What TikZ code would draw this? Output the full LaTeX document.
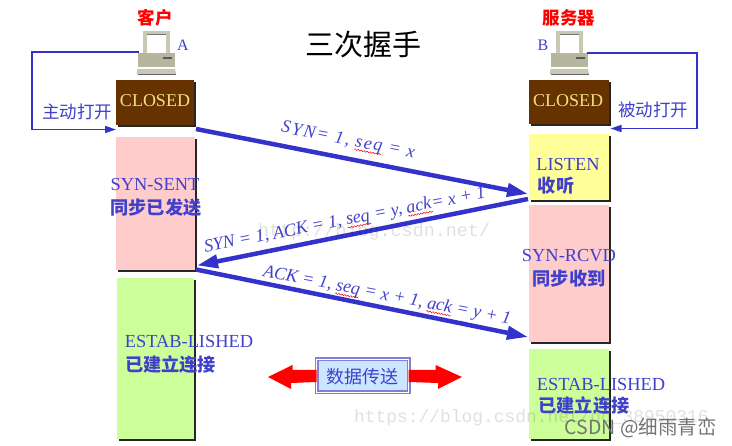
\documentclass[tikz,border=0pt]{standalone}
\usepackage{fontspec}
\setmainfont{Liberation Serif}
\newfontfamily\cjk{Noto Sans CJK SC}
\newfontfamily\wmark{Liberation Mono}
\usetikzlibrary{arrows.meta,calc,shadows,decorations.pathmorphing}
\definecolor{lblue}{HTML}{3333CC}
\definecolor{txtblue}{HTML}{4040CC}
\definecolor{brownbox}{HTML}{663300}
\definecolor{closedtxt}{HTML}{F0E080}
\definecolor{pinkbox}{HTML}{FFCCCC}
\definecolor{greenbox}{HTML}{CCFF99}
\definecolor{yellowbox}{HTML}{FFFF99}
\definecolor{dtfill}{HTML}{CCE6FF}
\definecolor{dtline}{HTML}{8080D8}
\definecolor{compbody}{HTML}{B6B69E}
\definecolor{complight}{HTML}{C8C8B4}
\newlength{\wavelen}
\newcommand{\redwave}[1]{\settowidth{\wavelen}{#1}\rlap{#1}\tikz[baseline=0pt,x=1pt,y=1pt]{\draw[red,line width=.5pt,decorate,decoration={snake,amplitude=.7pt,segment length=3pt}] (0pt,-3pt) -- (\wavelen,-3pt);}}
\tikzset{
  statebox/.style={draw=none,inner sep=0pt,outer sep=0pt,
    drop shadow={shadow xshift=2pt,shadow yshift=-2pt,fill=black!85,opacity=1}},
  statetext/.style={text=txtblue,font=\fontsize{18.4}{20}\selectfont,inner sep=0pt},
  cjkbold/.style={text=txtblue,font=\cjk\fontsize{18.2}{20}\selectfont\bfseries,inner sep=0pt},
  cjkplain/.style={text=txtblue,font=\cjk\fontsize{17.5}{20}\selectfont,inner sep=0pt},
  cjkred/.style={text=red,font=\cjk\fontsize{17.5}{20}\selectfont\bfseries,inner sep=0pt},
  msg/.style={-{Triangle[length=21pt,width=13pt]},line width=4.5pt,draw=lblue},
  loopline/.style={-{Triangle[length=11pt,width=7pt]},line width=1.6pt,draw=lblue},
  msglabel/.style={text=txtblue,font=\fontsize{18}{20}\selectfont\itshape,inner sep=0pt},
  wm/.style={font=\wmark,text=black,opacity=.12,inner sep=0pt},
  pics/computer/.style={code={
    \fill[black!60] (-18,21.5) rectangle (19.5,23);
    \fill[complight] (-13,-21) rectangle (13.5,1);
    \fill[black!55] (-9.5,-18) rectangle (9.5,-17);
    \fill[white] (-9.5,-17) rectangle (9.5,1);
    \fill[compbody] (-18.5,1) rectangle (19,15);
    \fill[black!65] (7,5) rectangle (16,7);
    \fill[complight] (-18.5,17) -- (19,17) -- (20,22) -- (-19.5,22) -- cycle;
  }}
}
\begin{document}
\begin{tikzpicture}[x=1pt,y=-1pt]
\useasboundingbox (0,0) rectangle (732,446);
\fill[white] (0,0) rectangle (732,446);

% state boxes
\node[statebox,fill=brownbox,minimum width=78pt,minimum height=45pt] (closedA) at (155,102.5) {};
\node[statebox,fill=pinkbox,minimum width=79pt,minimum height=133pt] (sent) at (155.5,204) {};
\node[statebox,fill=greenbox,minimum width=77pt,minimum height=161pt] (estA) at (155.5,358.5) {};
\node[statebox,fill=brownbox,minimum width=80pt,minimum height=44pt] (closedB) at (568.5,102) {};
\node[statebox,fill=yellowbox,minimum width=80pt,minimum height=66pt] (listen) at (569,167) {};
\node[statebox,fill=pinkbox,minimum width=80pt,minimum height=137pt] (rcvd) at (569,273.5) {};
\node[statebox,fill=greenbox,minimum width=80pt,minimum height=90pt] (estB) at (569,394) {};

% computers
\pic (compA) at (156,52) {computer};
\pic (compB) at (569,52) {computer};
\coordinate (portA) at (139,52);
\coordinate (portB) at (587,53);

% texts in boxes
\node[text=closedtxt,font=\fontsize{18}{20}\selectfont,inner sep=0pt] (tcA) at (155,101) {CLOSED};
\node[text=closedtxt,font=\fontsize{18}{20}\selectfont,inner sep=0pt] (tcB) at (568,101) {CLOSED};
\node[statetext] (tsent) at (155,185) {SYN-SENT};
\node[cjkbold] (tsentz) at (156,208) {同步已发送};
\node[statetext] (testA) at (189,342) {ESTAB-LISHED};
\node[cjkbold] (testAz) at (170.5,365) {已建立连接};
\node[statetext] (tlisten) at (568,165) {LISTEN};
\node[cjkbold] (tlistenz) at (556,186) {收听};
\node[statetext] (trcvd) at (569,256) {SYN-RCVD};
\node[cjkbold] (trcvdz) at (569,279) {同步收到};
\node[statetext] (testB) at (601,384) {ESTAB-LISHED};
\node[cjkbold] (testBz) at (584,406) {已建立连接};

% headers
\node[cjkred] (client) at (155,18) {客户};
\node[cjkred] (server) at (569,18) {服务器};
\node[text=txtblue,font=\fontsize{16}{20}\selectfont,inner sep=0pt] (labA) at (183,45) {A};
\node[text=txtblue,font=\fontsize{16}{20}\selectfont,inner sep=0pt] (labB) at (543,45) {B};
\node[font=\cjk\fontsize{29}{32}\selectfont,inner sep=0pt] (title) at (363,45) {三次握手};

% open loops
\coordinate (loopA1) at (32,52);
\coordinate (loopB1) at (697,53);
\draw[loopline] (portA) -- (loopA1) |- ($(closedA.south west)+(0,4.5)$);
\draw[loopline] (portB) -- (loopB1) |- ($(closedB.south east)+(2,4.5)$);
\node[cjkplain] (active) at (77,112) {主动打开};
\node[cjkplain] (passive) at (653,110) {被动打开};

% messages
\draw[msg] ($(closedA.south east)+(2,4)$) -- ($(listen.south west)+(-1,-6)$);
\draw[msg] ($(listen.south west)+(-1,-1)$) -- ($(sent.south east)+(2,-5)$);
\draw[msg] ($(sent.south east)+(1,-1)$) -- ($(rcvd.south west)+(-1,-5)$);

\node[msglabel,rotate=-11] (m1) at (348,141) {\addfontfeature{LetterSpace=9}SYN= 1, \redwave{seq} = x};
\node[msglabel,rotate=11] (m2) at (345,221) {SYN = 1, ACK = 1, \redwave{seq} = y, \redwave{ack}= x + 1};
\node[msglabel,rotate=-11] (m3) at (387,296) {ACK = 1, \redwave{seq} = x + 1, \redwave{ack} = y + 1};

% data transfer
\node[draw=dtline,line width=1.5pt,double=white,double distance=1pt,fill=dtfill,
      minimum width=92pt,minimum height=33pt,inner sep=0pt,outer sep=0pt] (data) at (362.5,376) {};
\node[cjkplain,font=\cjk\fontsize{18}{20}\selectfont] (datat) at (362.5,377) {数据传送};
\fill[red] (data.west) ++(0,-6) -- ++(-24,0) -- ++(0,-5) -- (268,377) -- (291,389) -- (291,383) -- ($(data.west)+(0,6)$) -- cycle;
\fill[red] (data.east) ++(0,-6) -- ++(27,0) -- ++(0,-5) -- (462,377) -- (438,389) -- (438,383) -- ($(data.east)+(0,6)$) -- cycle;

% watermarks
\node[wm,anchor=west,font=\wmark\fontsize{18.4}{20}\selectfont] (wm1) at (258,232) {http://blog.csdn.net/};
\node[wm,anchor=west,font=\wmark\fontsize{17.9}{20}\selectfont] (wm2) at (354,418) {https://blog.csdn.net/qq\_38950316};
\node[font=\cjk\fontsize{19.5}{20}\selectfont,text=black!55,inner sep=0pt,anchor=east] (csdn) at (717,428) {CSDN @细雨青峦};
\end{tikzpicture}
\end{document}
